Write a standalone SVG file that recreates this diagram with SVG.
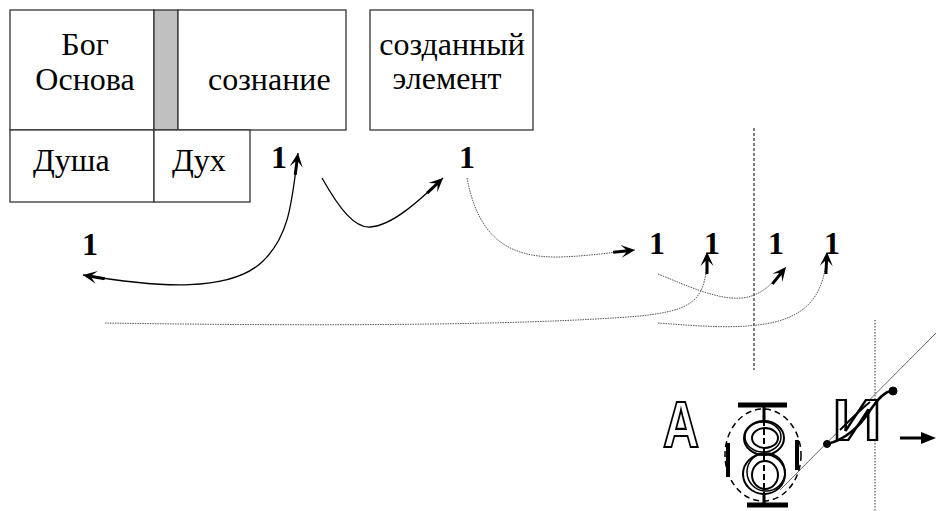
<svg xmlns="http://www.w3.org/2000/svg" width="936" height="511" viewBox="0 0 936 511">
<style>
.box{fill:#fff;stroke:#333;stroke-width:1.3}
.solid{fill:none;stroke:#000;stroke-width:1.3}
.dot{fill:none;stroke:#555;stroke-width:1;stroke-dasharray:1.5 1}
</style>
<defs>
<marker id="arr" markerUnits="userSpaceOnUse" markerWidth="24" markerHeight="14" viewBox="0 0 24 14" refX="22" refY="7" orient="auto-start-reverse">
<path d="M0,5.5 L13,5.5 L8,0.5 L22,7 L8,13.5 L13,8.5 L0,8.5 z" fill="#000"/>
</marker>
</defs>
<rect width="936" height="511" fill="#fff"/>

<g id="node-bog">
<rect class="box" x="10" y="10" width="144" height="120"/>
<text font-family="Liberation Serif, serif" font-size="32" x="85" y="55" text-anchor="middle">Бог</text>
<text font-family="Liberation Serif, serif" font-size="32" x="85" y="90" text-anchor="middle">Основа</text>
</g>
<g id="node-bar">
<rect x="154" y="10" width="24" height="120" fill="#c0c0c0" stroke="#333" stroke-width="1.3"/>
</g>
<g id="node-soznanie">
<rect class="box" x="178" y="10" width="168" height="120"/>
<text font-family="Liberation Serif, serif" font-size="32" x="208" y="90">сознание</text>
</g>
<g id="node-element">
<rect class="box" x="370" y="10" width="163" height="120"/>
<text font-family="Liberation Serif, serif" font-size="32" x="452" y="55" text-anchor="middle">созданный</text>
<text font-family="Liberation Serif, serif" font-size="32" x="447" y="89" text-anchor="middle">элемент</text>
</g>
<g id="node-dusha">
<rect class="box" x="10" y="130" width="144" height="72"/>
<text font-family="Liberation Serif, serif" font-size="32" x="33" y="171">Душа</text>
</g>
<g id="node-duh">
<rect class="box" x="154" y="130" width="96" height="72"/>
<text font-family="Liberation Serif, serif" font-size="32" x="172" y="171">Дух</text>
</g>

<g id="ones" font-family="Liberation Serif, serif" font-size="32" font-weight="bold" text-anchor="middle">
<text x="279" y="168">1</text>
<text x="467" y="168">1</text>
<text x="90" y="255">1</text>
<text x="657" y="254">1</text>
<text x="712" y="254">1</text>
<text x="776" y="254">1</text>
<text x="832" y="254">1</text>
</g>

<g id="guides">
<line x1="754" y1="128" x2="754" y2="370" stroke="#000" stroke-width="1" stroke-dasharray="3 2"/>
<line x1="875" y1="320" x2="875" y2="511" stroke="#333" stroke-width="1" stroke-dasharray="1.5 1.5"/>
<line x1="936" y1="333" x2="780" y2="490" stroke="#555" stroke-width="0.9"/>
</g>

<g id="connectors">
<path class="solid" d="M83,275 C160,288 230,292 262,262 C290,236 292,200 298,153" marker-start="url(#arr)" marker-end="url(#arr)"/>
<path class="solid" d="M322,178 C340,210 355,228 370,227 C392,226 420,200 443,178" marker-end="url(#arr)"/>
<path class="dot" d="M467,178 C478,235 505,258 560,257 C590,256 615,252 635,250" marker-end="url(#arr)"/>
<path class="dot" d="M105,323 C300,326 520,326 640,316 C695,310 707,300 707,252" marker-end="url(#arr)"/>
<path class="dot" d="M658,274 C690,287 718,300 742,298 C762,296 774,282 786,267" marker-end="url(#arr)"/>
<path class="dot" d="M658,323 C700,326 740,330 775,322 C810,313 825,292 827,252" marker-end="url(#arr)"/>
</g>

<g id="emblem" fill="none" stroke="#000">
<text font-family="Liberation Sans, sans-serif" font-weight="bold" fill="#fff" stroke="#000" stroke-width="2.2" text-anchor="middle" x="681" y="447" font-size="64" textLength="36" lengthAdjust="spacingAndGlyphs">A</text>
<line x1="738" y1="405" x2="787" y2="405" stroke-width="5"/>
<line x1="764" y1="405" x2="764" y2="421" stroke-width="3"/>
<ellipse cx="764" cy="438" rx="20" ry="17" stroke-width="2"/>
<ellipse cx="763" cy="437" rx="18" ry="15" stroke-width="1.5"/>
<ellipse cx="765" cy="438" rx="13" ry="10" stroke-width="2"/>
<ellipse cx="764" cy="474" rx="21" ry="20" stroke-width="2"/>
<ellipse cx="766" cy="472" rx="19" ry="19" stroke-width="1.5"/>
<ellipse cx="765" cy="475" rx="13" ry="14" stroke-width="2"/>
<line x1="764" y1="420" x2="764" y2="495" stroke-width="2" stroke-dasharray="6 3"/>
<line x1="728" y1="443" x2="728" y2="477" stroke-width="4"/>
<line x1="797" y1="440" x2="797" y2="470" stroke-width="4"/>
<line x1="747" y1="505" x2="788" y2="505" stroke-width="5"/>
<line x1="764" y1="493" x2="764" y2="503" stroke-width="3"/>
<ellipse cx="763" cy="455" rx="38" ry="46" stroke-width="1.5" stroke-dasharray="6 4"/>
<text font-family="Liberation Sans, sans-serif" font-weight="bold" fill="#fff" stroke="#000" stroke-width="2.2" text-anchor="middle" x="857" y="440" font-size="58" textLength="49" lengthAdjust="spacingAndGlyphs">И</text>
<path d="M827,444 C845,440 860,426 869,412 C877,400 885,390 893,391" stroke-width="2.5"/>
<path d="M840,430 C850,420 860,410 870,402" stroke-width="2"/>
<circle cx="827" cy="444" r="3.5" fill="#000"/>
<circle cx="893" cy="391" r="4" fill="#000"/>
<line x1="900" y1="438" x2="925" y2="438" stroke-width="3"/>
<polygon points="921,432 936,438 921,444" fill="#000" stroke="none"/>
</g>
</svg>
